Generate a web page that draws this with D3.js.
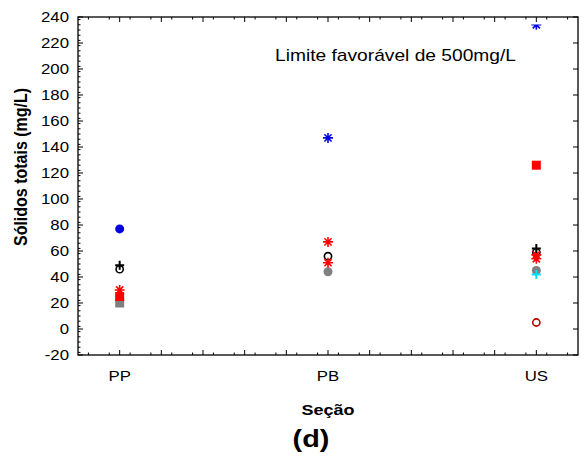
<!DOCTYPE html>
<html><head><meta charset="utf-8">
<script src="https://cdn.jsdelivr.net/npm/d3@7"></script>
<style>body{margin:0;background:#fff}svg{display:block}text{font-family:Arial,"Liberation Sans",sans-serif}</style>
</head><body><svg id="c" width="585" height="459"></svg>
<script>
const categories = ["PP","PB","US"];
const yTicks = [-20,0,20,40,60,80,100,120,140,160,180,200,220,240];
// each series: values by category (null = absent)
const blueCircle   = [77, null, null];
const blueStar     = [null, 147, 234];
const blackPlus    = [49, null, 62];
const blackRing    = [46, 56, 59];
const redStarA     = [30, 67, 57];
const redStarB     = [null, 51, 54];
const redSquare    = [25, null, 126];
const graySquare   = [20, null, null];
const grayCircle   = [null, 44, 45];
const cyanPlus     = [null, null, 42];
const darkRedRing  = [null, null, 5];
const series = [
  {v: graySquare, shape:"square", color:"#808080"},
  {v: grayCircle, shape:"circle", color:"#808080"},
  {v: redSquare, shape:"square", color:"#ff0000"},
  {v: blueCircle, shape:"circle", color:"#0000e0"},
  {v: blackRing, shape:"ring", color:"#000000"},
  {v: redStarB, shape:"star", color:"#ff0000"},
  {v: redStarA, shape:"star", color:"#ff0000"},
  {v: blackPlus, shape:"plus", color:"#000000"},
  {v: cyanPlus, shape:"plus", color:"#00e0ff"},
  {v: blueStar, shape:"star", color:"#0000e0"},
  {v: darkRedRing, shape:"ring", color:"#c00000"}
];
const svg = d3.select("#c");
const L=78, R=578, T=17, B=355, SX=1.2;
const x = d3.scaleLinear().domain([0.8,3.2]).range([L,R]);
const y = d3.scaleLinear().domain([-20,240]).range([B,T]);
svg.append("clipPath").attr("id","clip").append("rect").attr("x",L).attr("y",T).attr("width",R-L).attr("height",B-T);
const m = svg.append("g").attr("clip-path","url(#clip)");
function draw(shape,color,cx,cy){
  if(shape==="circle") m.append("circle").attr("cx",cx).attr("cy",cy).attr("r",4.5).attr("fill",color);
  else if(shape==="ring") m.append("circle").attr("cx",cx).attr("cy",cy).attr("r",3.6).attr("fill","none").attr("stroke",color).attr("stroke-width",1.6);
  else if(shape==="square") m.append("rect").attr("x",cx-4.5).attr("y",cy-4.5).attr("width",9).attr("height",9).attr("fill",color);
  else if(shape==="plus") m.append("path").attr("d",`M${cx-4.5},${cy}H${cx+4.5}M${cx},${cy-4.5}V${cy+4.5}`).attr("stroke",color).attr("stroke-width",2);
  else if(shape==="star") m.append("path").attr("d",`M${cx-5},${cy}H${cx+5}M${cx},${cy-5}V${cy+5}M${cx-3.6},${cy-3.6}L${cx+3.6},${cy+3.6}M${cx-3.6},${cy+3.6}L${cx+3.6},${cy-3.6}`).attr("stroke",color).attr("stroke-width",1.6);
}
series.forEach(s=>s.v.forEach((val,i)=>{ if(val!=null) draw(s.shape,s.color,x(i+1),y(val)); }));
// legend box background (white) partly hiding the topmost marker
svg.append("rect").attr("x",270).attr("y",T).attr("width",R-270-1).attr("height",7.5).attr("fill","#fff");
svg.append("rect").attr("x",L).attr("y",T).attr("width",R-L).attr("height",B-T).attr("fill","none").attr("stroke","#000").attr("stroke-width",1.3);
const xMaj = d3.range(0,13).map(i=>+(0.8+i*0.2).toFixed(2));
const xMin = d3.range(0,24).map(i=>+(0.85+i*0.1).toFixed(2)).filter(v=>v<3.2);
const tk = svg.append("g").attr("stroke","#000").attr("stroke-width",1);
xMaj.forEach(v=>{ if(v>0.8&&v<3.2){
  tk.append("line").attr("x1",x(v)).attr("x2",x(v)).attr("y1",B).attr("y2",B-5);
  tk.append("line").attr("x1",x(v)).attr("x2",x(v)).attr("y1",T).attr("y2",T+5);}});
xMin.forEach(v=>{
  tk.append("line").attr("x1",x(v)).attr("x2",x(v)).attr("y1",B).attr("y2",B-2.5);
  tk.append("line").attr("x1",x(v)).attr("x2",x(v)).attr("y1",T).attr("y2",T+2.5);});
yTicks.forEach(v=>{
  tk.append("line").attr("x1",L).attr("x2",L+5).attr("y1",y(v)).attr("y2",y(v));
  tk.append("line").attr("x1",R).attr("x2",R-5).attr("y1",y(v)).attr("y2",y(v));});
d3.range(-18,240,4).forEach(v=>{ if(v%20!==0)
  tk.append("line").attr("x1",L).attr("x2",L+2.5).attr("y1",y(v)).attr("y2",y(v));});
function txt(px,py,s,size,anchor,bold,extra){
  return svg.append("text").attr("transform",`translate(${px},${py}) scale(${SX},1)${extra||""}`)
    .attr("font-size",size).attr("text-anchor",anchor).attr("font-weight",bold?"bold":"normal").attr("fill","#000").text(s);
}
yTicks.forEach(v=>txt(69,y(v)+5,v,14,"end"));
categories.forEach((c,i)=>txt(x(i+1),381,c,14,"middle"));
txt(x(2),415,"Seção",15,"middle",true);
txt(20,167,"Sólidos totais (mg/L)",16,"middle",true," rotate(-90)").attr("dy","0.35em");
txt(311,447,"(d)",24,"middle",true);
txt(275,61,"Limite favorável de 500mg/L",16,"start");
</script></body></html>
